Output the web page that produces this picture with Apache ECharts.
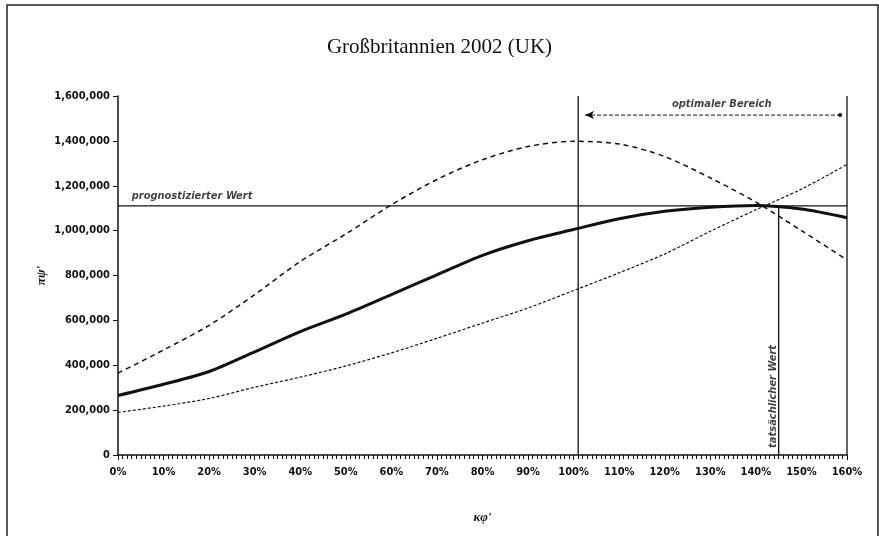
<!DOCTYPE html>
<html>
<head>
<meta charset="utf-8">
<script src="https://cdn.jsdelivr.net/npm/echarts@6/dist/echarts.min.js"></script>
<style>
  html, body { margin: 0; padding: 0; background: #fff; }
  #main { width: 879px; height: 536px; }
</style>
</head>
<body>
<div id="main"></div>
<script>
// x in percent, y values
var xSteps = [0, 10, 20, 30, 40, 50, 60, 70, 80, 90, 100, 110, 120, 130, 140, 150, 160];
var middle = [265000, 315000, 372000, 460000, 550000, 628000, 715000, 803000, 890000, 955000, 1005000, 1053000, 1086000, 1104000, 1112000, 1096000, 1057000];
var upper  = [365000, 468000, 578000, 715000, 862000, 985000, 1115000, 1228000, 1316000, 1375000, 1398000, 1386000, 1330000, 1235000, 1127000, 1000000, 870000];
var lower  = [190000, 218000, 252000, 302000, 347000, 397000, 455000, 520000, 588000, 655000, 733000, 812000, 896000, 997000, 1093000, 1185000, 1295000];

var forecast = 1110000;   // prognostizierter Wert
var actualX = 145;        // tatsächlicher Wert
var actualY = 1106000;
var rangeFrom = 101;      // optimaler Bereich
var rangeTo = 160;
var rangeY = 1515000;

function pairs(ys) {
    return xSteps.map(function (x, i) { return [x, ys[i]]; });
}

var serif = 'Liberation Serif';
var sans = "'DejaVu Sans Condensed', 'DejaVu Sans', sans-serif";
var chart = echarts.init(document.getElementById('main'));

chart.setOption({
    animation: false,
    title: {
        text: 'Großbritannien 2002 (UK)',
        left: 'center',
        top: 32,
        textStyle: { fontFamily: serif, fontSize: 21, fontWeight: 'normal', color: '#111' }
    },
    graphic: [{
        type: 'rect',
        shape: { x: 7, y: 5, width: 871, height: 545 },
        style: { fill: 'none', stroke: '#222', lineWidth: 1.5 }
    }],
    grid: { left: 118, right: 32, top: 96, bottom: 81 },
    xAxis: {
        type: 'value',
        min: 0,
        max: 160,
        interval: 10,
        name: "κφ'",
        nameLocation: 'middle',
        nameGap: 56,
        nameMoveOverlap: false,
        nameTextStyle: { fontFamily: serif, fontStyle: 'italic', fontWeight: 'bold', fontSize: 13, color: '#111' },
        axisLine: { lineStyle: { color: '#111', width: 1.5 } },
        axisTick: { show: true, length: 5, lineStyle: { color: '#111' } },
        minorTick: { show: true, splitNumber: 10, length: 4, lineStyle: { color: '#111' } },
        splitLine: { show: false },
        axisLabel: {
            margin: 12,
            fontFamily: sans,
            fontWeight: 'bold',
            fontSize: 11,
            color: '#111',
            formatter: function (v) { return v + '%'; }
        }
    },
    yAxis: {
        type: 'value',
        min: 0,
        max: 1600000,
        interval: 200000,
        name: "πψ'",
        nameLocation: 'middle',
        nameGap: 70,
        nameRotate: 90,
        nameMoveOverlap: false,
        nameTextStyle: { fontFamily: serif, fontStyle: 'italic', fontWeight: 'bold', fontSize: 13, color: '#111' },
        axisLine: { show: true, lineStyle: { color: '#111', width: 1.5 } },
        axisTick: { show: true, length: 5, lineStyle: { color: '#111' } },
        splitLine: { show: false },
        axisLabel: {
            margin: 8,
            fontFamily: sans,
            fontWeight: 'bold',
            fontSize: 11,
            color: '#111',
            formatter: function (v) { return v.toLocaleString('en-US'); }
        }
    },
    series: [
        {
            type: 'line', name: 'mitte', data: pairs(middle), smooth: 0.3, showSymbol: false,
            lineStyle: { color: '#111', width: 3 }
        },
        {
            type: 'line', name: 'oben', data: pairs(upper), smooth: 0.3, showSymbol: false,
            lineStyle: { color: '#111', width: 1.5, type: [5, 4] }
        },
        {
            type: 'line', name: 'unten', data: pairs(lower), smooth: 0.3, showSymbol: false,
            lineStyle: { color: '#111', width: 1.2, type: [3, 2] }
        },
        {
            type: 'line', name: 'prognose', data: [[0, forecast], [160, forecast]], showSymbol: false,
            lineStyle: { color: '#111', width: 1.3 }
        },
        {
            type: 'line', name: 'v1', data: [[rangeFrom, 0], [rangeFrom, 1600000]], showSymbol: false,
            lineStyle: { color: '#111', width: 1.3 }
        },
        {
            type: 'line', name: 'v2', data: [[rangeTo, 0], [rangeTo, 1600000]], showSymbol: false,
            lineStyle: { color: '#111', width: 1.3 }
        },
        {
            type: 'line', name: 'v3', data: [[actualX, 0], [actualX, actualY]], showSymbol: false,
            lineStyle: { color: '#111', width: 1.3 }
        },
        {
            type: 'line', name: 'bereich',
            data: [
                { value: [rangeFrom + 1.5, rangeY], symbol: 'arrow', symbolSize: [6, 9], symbolRotate: 90 },
                { value: [rangeTo - 1.5, rangeY], symbol: 'circle', symbolSize: 4 }
            ],
            showSymbol: true,
            itemStyle: { color: '#111' },
            lineStyle: { color: '#111', width: 1, type: [4, 2] }
        },
        {
            type: 'scatter', name: 'notes', symbolSize: 0, silent: true,
            label: {
                show: true, color: '#111', fontFamily: sans, fontStyle: 'italic', fontWeight: 'bold', fontSize: 11,
                formatter: function (p) { return p.name; }
            },
            data: [
                { name: 'prognostizierter Wert', value: [3, forecast],
                  label: { position: 'inside', align: 'left', verticalAlign: 'bottom', offset: [0, -4] } },
                { name: 'optimaler Bereich', value: [(rangeFrom + rangeTo) / 2 + 2, rangeY],
                  label: { position: 'inside', align: 'center', verticalAlign: 'bottom', offset: [0, -5] } },
                { name: 'tatsächlicher Wert', value: [actualX, 45000],
                  label: { position: 'inside', rotate: 90, align: 'left', verticalAlign: 'bottom', offset: [-3, 0] } }
            ]
        }
    ]
});
</script>
</body>
</html>
